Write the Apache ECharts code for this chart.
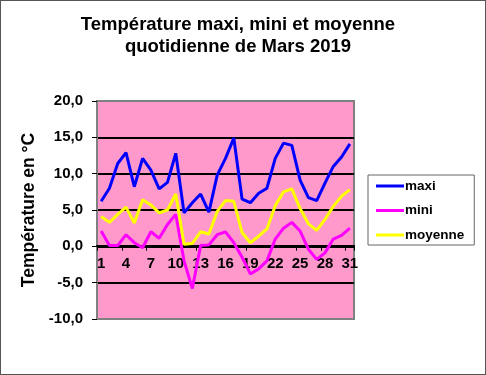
<!DOCTYPE html>
<html><head><meta charset="utf-8">
<script src="https://cdn.jsdelivr.net/npm/echarts@6/dist/echarts.min.js"></script>
<style>html,body{margin:0;padding:0;background:#fff}#c{width:486px;height:375px;box-sizing:border-box;border:1px solid #555}</style>
</head><body><div id="c"></div>
<script>
const days = Array.from({length:31},(_,i)=>String(i+1));
const maxi = [6.2,8.0,11.4,12.9,8.2,12.1,10.5,7.9,8.8,12.8,4.6,6.0,7.2,4.7,9.8,12.1,14.9,6.5,6.0,7.3,8.0,12.1,14.2,13.9,9.1,6.7,6.3,8.7,11.0,12.3,14.1];
const mini = [2.1,0.1,0.1,1.6,0.5,-0.2,2.0,1.1,3.0,4.4,-2.0,-5.8,0.1,0.2,1.6,2.0,0.5,-1.5,-3.8,-3.1,-2.0,1.0,2.5,3.3,2.1,-0.4,-1.8,-0.9,1.0,1.5,2.5];
const moyenne = [4.1,3.3,4.4,5.4,3.2,6.4,5.7,4.6,5.0,7.2,0.3,0.4,2.0,1.7,4.8,6.3,6.2,1.9,0.5,1.4,2.4,5.6,7.5,7.9,5.2,3.1,2.2,3.7,5.5,6.9,7.8];
const yMin = -10, yMax = 20;
const gridTop = 100, gridBottom = 55, H = 375;
const zeroOffset = -(H - gridTop - gridBottom) * (0 - yMin) / (yMax - yMin);
const chart = echarts.init(document.getElementById('c'));
const F = 'Arial, "Liberation Sans", sans-serif';
chart.setOption({
  animation:false,
  title:{text:'Température maxi, mini et moyenne\nquotidienne de Mars 2019',left:232,top:8,textAlign:'center',
    textStyle:{fontFamily:F,fontWeight:'bold',fontSize:18.5,lineHeight:22,color:'#000'}},
  grid:{left:96,right:131,top:gridTop,bottom:gridBottom,show:true,backgroundColor:'#FF99CC',borderColor:'#808080',borderWidth:2},
  legend:{orient:'vertical',left:367,top:174,padding:[4,10,3,8],itemGap:10.5,itemWidth:28,itemHeight:3,
    borderColor:'#666',borderWidth:1,backgroundColor:'#fff',icon:'rect',
    textStyle:{fontFamily:F,fontWeight:'bold',fontSize:13.5,color:'#000',padding:[0,0,0,-4]},
    data:['maxi','mini','moyenne']},
  xAxis:{type:'category',data:days,boundaryGap:true,position:'bottom',offset:zeroOffset,
    axisLine:{onZero:false,lineStyle:{color:'#000',width:2}},
    axisTick:{show:true,length:5,lineStyle:{color:'#000',width:1}},
    axisLabel:{interval:2,margin:11,fontFamily:F,fontWeight:'bold',fontSize:15,color:'#000'}},
  yAxis:{type:'value',min:yMin,max:yMax,interval:5,
    name:'Température en °C',nameLocation:'middle',nameGap:57,
    nameTextStyle:{fontFamily:F,fontWeight:'bold',fontSize:17.5,color:'#000'},
    axisLine:{show:true,lineStyle:{color:'#808080',width:2}},
    axisTick:{show:true,length:5,lineStyle:{color:'#000',width:1}},
    axisLabel:{margin:14,fontFamily:F,fontWeight:'bold',fontSize:15,color:'#000',formatter:v=>v.toFixed(1).replace('.',',')},
    splitLine:{show:true,lineStyle:{color:['#808080','#000','#000','#000','#000','#000','#808080'],width:2}}},
  series:[
    {name:'maxi',type:'line',data:maxi,symbol:'none',lineStyle:{color:'#0000FF',width:3},itemStyle:{color:'#0000FF'}},
    {name:'mini',type:'line',data:mini,symbol:'none',lineStyle:{color:'#FF00FF',width:3},itemStyle:{color:'#FF00FF'}},
    {name:'moyenne',type:'line',data:moyenne,symbol:'none',lineStyle:{color:'#FFFF00',width:3},itemStyle:{color:'#FFFF00'}}
  ]
});
</script></body></html>
